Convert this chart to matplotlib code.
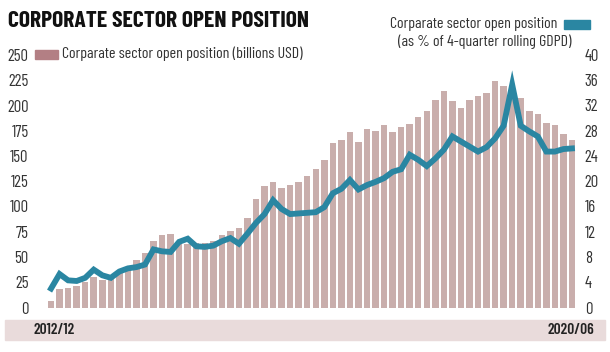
import numpy as np
import matplotlib
matplotlib.use('Agg')
import matplotlib.pyplot as plt
from matplotlib.patches import Rectangle

# monthly-ish observations, 2012/12 .. 2020/06
open_pos_bn = [6, 18, 19.5, 21, 25, 30, 27, 28.5, 34.5, 39,
               47.5, 53.5, 65.5, 71.5, 72.5, 65.5, 63, 64, 64, 66,
               72, 76, 79, 88.5, 107, 120, 124, 118, 121, 124,
               130, 137, 146, 162.5, 165.5, 174, 164, 176.5, 174.5, 180.5,
               173.5, 178.5, 181.5, 189, 194.5, 205.5, 214, 204.5, 198, 205.5,
               209, 212, 224, 219, 213, 207, 195, 191.5, 182.5, 180.5,
               171.5, 166]
open_pos_gdp = [3.0, 5.3, 4.3, 4.2, 4.7, 6.0, 5.1, 4.7, 5.7, 6.2,
                6.4, 6.8, 9.2, 8.9, 8.8, 10.4, 10.9, 9.7, 9.6, 9.8,
                10.5, 11.0, 10.1, 11.7, 13.4, 14.8, 17.0, 15.6, 14.8, 14.9,
                15.0, 15.1, 15.9, 18.1, 18.8, 20.2, 18.7, 19.4, 19.9, 20.5,
                21.5, 21.9, 24.2, 23.4, 22.4, 23.6, 25.0, 27.1, 26.3, 25.5,
                24.7, 25.4, 26.8, 28.8, 35.3, 28.8, 27.9, 27.1, 24.7, 24.7,
                25.1, 25.2]
left_ticks = [0, 25, 50, 75, 100, 125, 150, 175, 200, 225, 250]
right_ticks = [0, 4, 8, 12, 16, 20, 24, 28, 32, 36, 40]
first_label = '2012/12'
last_label = '2020/06'

bar_col = '#c9aeac'
patch_col = '#b37f84'
line_col = '#2a86a2'
txt_col = '#333333'
fnt = 'Barlow Condensed'

plt.rcParams['font.family'] = [fnt, 'DejaVu Sans']

fig = plt.figure(figsize=(6.10, 3.52), dpi=100)
ax = fig.add_axes([42.5 / 610, 44.5 / 352, 538 / 610, 252.5 / 352])
x = np.arange(len(open_pos_bn))
ax.bar(x, open_pos_bn, width=0.76, color=bar_col, zorder=1)
ax.set_xlim(-1, len(x))
ax.set_ylim(0, 250)
ax.set_yticks(left_ticks)
ax.set_xticks([])
ax.tick_params(axis='y', length=0, pad=10, labelsize=12, labelcolor=txt_col)
for s in ax.spines.values():
    s.set_visible(False)

ax2 = ax.twinx()
ax2.plot(x, open_pos_gdp, color=line_col, lw=4.2, solid_joinstyle='miter', zorder=3)
ax2.set_ylim(0, 40)
ax2.set_yticks(right_ticks)
ax2.tick_params(axis='y', length=0, pad=3, labelsize=12, labelcolor=txt_col)
for s in ax2.spines.values():
    s.set_visible(False)

# title
fig.text(8 / 610, 1 - 21 / 352, 'CORPORATE SECTOR OPEN POSITION', fontsize=17,
         fontweight='bold', color='#111111', va='center', ha='left')

# legends
fig.patches.append(Rectangle((35 / 610, 1 - 59 / 352), 23 / 610, 9 / 352,
                             transform=fig.transFigure, color=patch_col, figure=fig))
fig.text(62 / 610, 1 - 54 / 352, 'Corparate sector open position (billions USD)',
         fontsize=11.5, color=txt_col, va='center', ha='left')
fig.patches.append(Rectangle((564 / 610, 1 - 29 / 352), 26 / 610, 9 / 352,
                             transform=fig.transFigure, color=line_col, figure=fig))
fig.text(557 / 610, 1 - 24 / 352, 'Corparate sector open position',
         fontsize=11.5, color=txt_col, va='center', ha='right')
fig.text(571 / 610, 1 - 42 / 352, '(as % of 4-quarter rolling GDPD)',
         fontsize=11.5, color=txt_col, va='center', ha='right')

# bottom band with period labels
fig.patches.append(Rectangle((5 / 610, 12 / 352), 600 / 610, 20 / 352,
                             transform=fig.transFigure, color='#e9dbdb', figure=fig))
fig.text(33 / 610, 22 / 352, first_label, fontsize=11, fontweight='semibold',
         color='#222222', va='center', ha='left')
fig.text(594 / 610, 22 / 352, last_label, fontsize=11, fontweight='semibold',
         color='#222222', va='center', ha='right')

fig.savefig('out.png', dpi=100)
